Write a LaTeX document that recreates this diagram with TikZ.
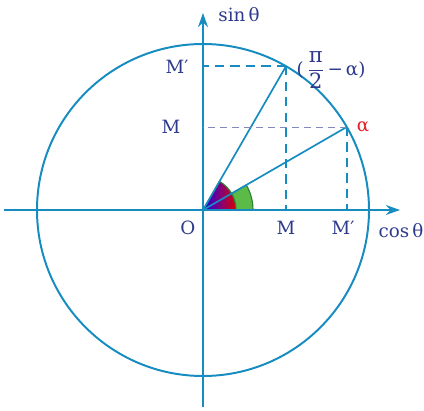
\documentclass[tikz,border=0pt]{standalone}
\usepackage{amsmath}
\usepackage{fontspec}
\setmainfont{DejaVu Serif}
\usepackage{xcolor}
\definecolor{circBlue}{RGB}{22, 140, 192}
\definecolor{txtBlue}{RGB}{45, 58, 140}
\definecolor{alphaRed}{RGB}{226, 30, 40}
\definecolor{secGreen}{RGB}{92, 186, 70}
\definecolor{edgeGreen}{RGB}{40, 130, 55}
\usepackage{tikz}
\usetikzlibrary{arrows.meta, calc}

\begin{document}
\begin{tikzpicture}[
  axis/.style={draw=circBlue, line width=1.4pt, -{Stealth[length=10pt, width=7pt]}},
  circ/.style={draw=circBlue, line width=1.4pt},
  ray/.style={draw=circBlue, line width=1.2pt},
  proj/.style={draw=circBlue, line width=1.1pt, dash pattern=on 6.5pt off 4.5pt},
  projthin/.style={draw=txtBlue!60, line width=0.7pt, dash pattern=on 5pt off 3.5pt},
  lbl/.style={text=txtBlue, font=\fontsize{13}{16}\selectfont, inner sep=1pt}]

  \useasboundingbox (-5.075,-5.0) rectangle (5.525,5.25);

  % ---- Points ----
  \def\R{4.15}
  \coordinate (O) at (0,0);
  \coordinate (A) at (30:\R);
  \coordinate (B) at (60:\R);
  \coordinate (xl) at (-4.975,0);
  \coordinate (xr) at (4.925,0);
  \coordinate (yb) at (0,-4.925);
  \coordinate (yt) at (0,4.925);
  \coordinate (Ax) at (A |- O);
  \coordinate (Ay) at (O |- A);
  \coordinate (Bx) at (B |- O);
  \coordinate (By) at (O |- B);

  % ---- Angle sectors ----
  \filldraw[fill=secGreen, draw=edgeGreen, line width=0.8pt]
    (O) -- (1.25,0) arc (0:30:1.25) -- cycle;
  \shade[left color=blue!75!violet, right color=red!85!black, middle color=violet]
    (O) -- (0.825,0) arc (0:60:0.825) -- cycle;
  \draw[draw=edgeGreen, line width=0.8pt] (O) -- (0.825,0) arc (0:60:0.825) -- cycle;

  % ---- Circle and axes ----
  \draw[circ] (O) circle (\R);
  \draw[axis] (xl) -- (xr);
  \draw[axis] (yb) -- (yt);

  % ---- Radii and projections ----
  \draw[ray] (O) -- (A);
  \draw[ray] (O) -- (B);
  \draw[proj] (B) -- (By);
  \draw[proj] (B) -- (Bx);
  \draw[projthin] (A) -- (Ay);
  \draw[proj] (A) -- (Ax);

  % ---- Labels ----
  \node[lbl] (sinlbl) at (0.9,4.875) {sin\,θ};
  \node[lbl] (coslbl) at (4.95,-0.52) {cos\,θ};
  \node[lbl] (olbl) at (-0.38,-0.45) {O};
  \node[lbl] (mx) at (2.075,-0.45) {M};
  \node[lbl] (mpx) at (3.5,-0.45) {M′};
  \node[lbl] (my) at (-0.8,2.075) {M};
  \node[lbl] (mpy) at (-0.65,3.575) {M′};
  \node[lbl, text=alphaRed] (albl) at (4.0,2.075) {α};
  \node[lbl, anchor=west] (blbl) at (2.3,3.5)
    {(\,\scalebox{1.15}{$\dfrac{\text{π}}{\text{2}}$}\,−\,α)};
\end{tikzpicture}
\end{document}
